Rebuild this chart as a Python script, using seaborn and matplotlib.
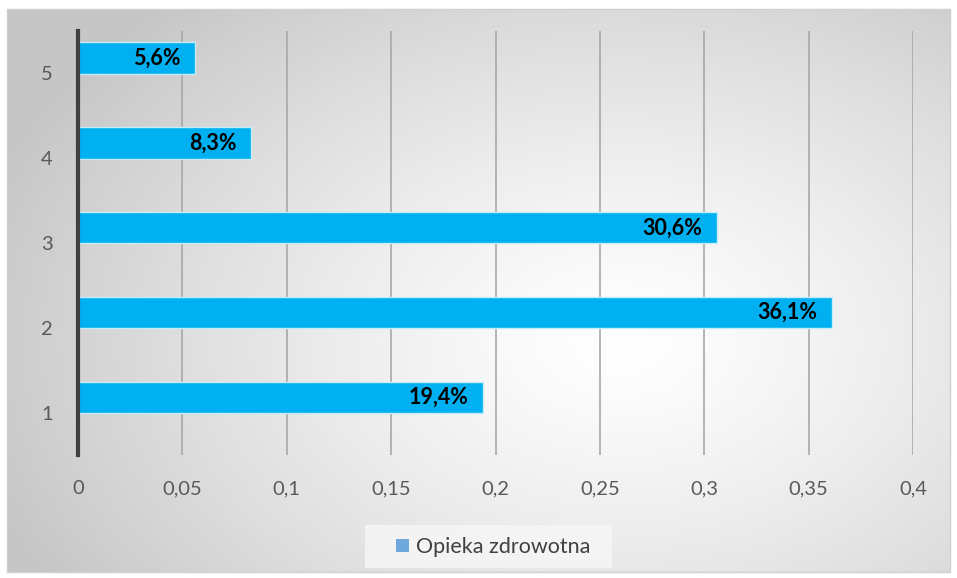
import numpy as np
import pandas as pd
import matplotlib.pyplot as plt
from matplotlib.patches import Rectangle, Patch
import seaborn as sns

categories = ['5', '4', '3', '2', '1']
values = [0.056, 0.083, 0.306, 0.361, 0.194]
labels = ['5,6%', '8,3%', '30,6%', '36,1%', '19,4%']
xticks = [0, 0.05, 0.1, 0.15, 0.2, 0.25, 0.3, 0.35, 0.4]
xtick_labels = ['0', '0,05', '0,1', '0,15', '0,2', '0,25', '0,3', '0,35', '0,4']
series = 'Opieka zdrowotna'

df = pd.DataFrame({'cat': categories, 'val': values})

sns.set_theme(style="white")
plt.rcParams['font.family'] = ['Lato', 'DejaVu Sans']

fig = plt.figure(figsize=(9.57, 5.78), dpi=100)
fig.patch.set_facecolor('white')

# background panel with radial gradient
bg = fig.add_axes([0, 0, 1, 1], zorder=-10)
bg.set_xlim(0, 957)
bg.set_ylim(578, 0)
bg.axis('off')
W, H = 957, 578
yy, xx = np.mgrid[0:H, 0:W]
d = np.sqrt(((xx - 620) / 700.0) ** 2 + ((yy - 340) / 480.0) ** 2)
d = np.clip(d / 0.95, 0, 1)
shade = 1.0 - 0.22 * d ** 1.3
img = np.dstack([shade, shade, shade])
x0, y0, x1, y1 = 7, 9, 950, 572
bg.imshow(img[y0:y1, x0:x1], extent=(x0, x1, y1, y0), aspect='auto', interpolation='bilinear')
bg.add_patch(Rectangle((x0, y0), x1 - x0, y1 - y0, fill=False, edgecolor='#d0d0d0', lw=1))
# legend box
bg.add_patch(Rectangle((365, 525), 247, 43, facecolor='#f7f7f7', edgecolor='none', alpha=0.8))

ax = fig.add_axes([78 / 957, 1 - 455 / 578, (913 - 78) / 957, (455 - 31) / 578])
ax.set_facecolor('none')
sns.barplot(data=df, x='val', y='cat', order=categories, orient='h', color='#00B0F0',
            width=0.37, edgecolor='#c6ecfb', linewidth=1.0, saturation=1, ax=ax, zorder=3)

for i, (v, lab) in enumerate(zip(values, labels)):
    ax.text(v - 0.0068, i, lab, ha='right', va='center', fontsize=15.5,
            fontweight='bold', color='black', zorder=5)

ax.set_xlim(0, 0.4)
ax.set_ylim(4.68, -0.32)
ax.set_yticks(np.arange(len(categories)) + 0.18)
ax.set_yticklabels(categories)
ax.set_xticks(xticks)
ax.set_xticklabels(xtick_labels)
ax.grid(axis='x', color='#a8a8a8', lw=1.2, zorder=0)
ax.set_axisbelow(True)
for s in ['top', 'right', 'bottom']:
    ax.spines[s].set_visible(False)
ax.spines['left'].set_color('#404040')
ax.spines['left'].set_linewidth(3)
ax.spines['left'].set_zorder(6)
ax.tick_params(axis='both', length=0, labelsize=14.5, labelcolor='#595959')
ax.tick_params(axis='x', pad=18)
ax.tick_params(axis='y', pad=18)
ax.set_xlabel('')
ax.set_ylabel('')

leg = fig.legend(handles=[Patch(facecolor='#6FA8DC', edgecolor='none', label=series)],
                 loc='center', bbox_to_anchor=(493 / 957, 1 - 547 / 578), fontsize=15.5,
                 frameon=False, handlelength=0.6, handleheight=0.6, handletextpad=0.3)
for t in leg.get_texts():
    t.set_color('#404040')

fig.savefig('out.png', dpi=100)
